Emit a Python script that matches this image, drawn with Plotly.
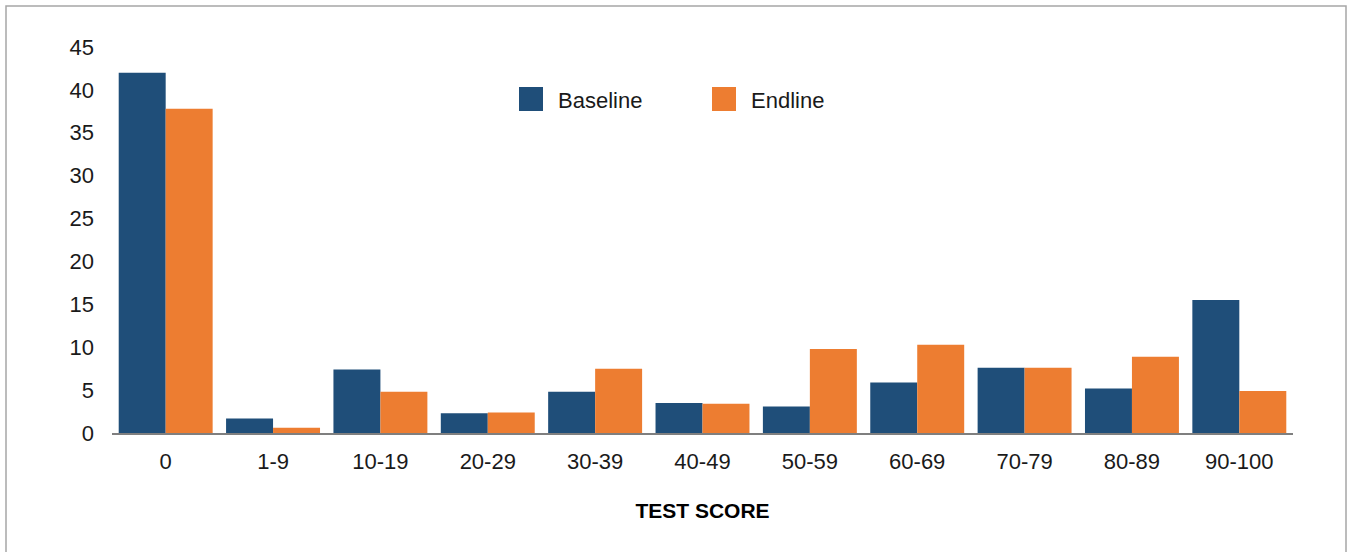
import plotly.graph_objects as go

# Score bands and share of pupils (%) in each band
categories = ["0", "1-9", "10-19", "20-29", "30-39", "40-49", "50-59",
              "60-69", "70-79", "80-89", "90-100"]
baseline = [42.0, 1.7, 7.4, 2.3, 4.8, 3.5, 3.1, 5.9, 7.6, 5.2, 15.5]
endline = [37.8, 0.6, 4.8, 2.4, 7.5, 3.4, 9.8, 10.3, 7.6, 8.9, 4.9]

series_names = ["Baseline", "Endline"]
colors = ["#1f4e79", "#ed7d31"]
y_ticks = [0, 5, 10, 15, 20, 25, 30, 35, 40, 45]

FONT = "Liberation Sans"
W, H = 1348, 552
ML, MR, MT, MB = 112, 55, 47, 119

fig = go.Figure()
for name, vals, col in zip(series_names, [baseline, endline], colors):
    fig.add_trace(go.Bar(x=categories, y=vals, name=name,
                         marker=dict(color=col, line=dict(width=0)),
                         showlegend=False))

pw = W - ML - MR
ph = H - MT - MB


def px_to_paper_x(px):
    return (px - ML) / pw


def px_to_paper_y(py):
    return (H - MB - py) / ph


shapes = []
annotations = []

# Outer frame around the whole figure
shapes.append(dict(type="rect", xref="paper", yref="paper",
                   x0=px_to_paper_x(6), x1=px_to_paper_x(1346),
                   y0=px_to_paper_y(560), y1=px_to_paper_y(6),
                   line=dict(color="#a6a6a6", width=1.5), fillcolor="rgba(0,0,0,0)",
                   layer="below"))

# Legend drawn as swatches with labels
legend_x = [519, 712]
for name, col, lx in zip(series_names, colors, legend_x):
    shapes.append(dict(type="rect", xref="paper", yref="paper",
                       x0=px_to_paper_x(lx), x1=px_to_paper_x(lx + 24),
                       y0=px_to_paper_y(111), y1=px_to_paper_y(87),
                       fillcolor=col, line=dict(width=0)))
    annotations.append(dict(x=px_to_paper_x(lx + 37), y=px_to_paper_y(100),
                            xref="paper", yref="paper", text=name,
                            showarrow=False, xanchor="left", yanchor="middle",
                            font=dict(family=FONT, size=22, color="#1a1a1a")))

fig.update_layout(
    width=W, height=H,
    margin=dict(l=ML, r=MR, t=MT, b=MB),
    paper_bgcolor="white", plot_bgcolor="white",
    barmode="group", bargap=0.125, bargroupgap=0,
    font=dict(family=FONT, size=22, color="#1a1a1a"),
    shapes=shapes, annotations=annotations,
    xaxis=dict(showgrid=False, showline=True, linecolor="#7f7f7f", linewidth=2,
               ticks="", tickfont=dict(size=22), ticklabelstandoff=8,
               title=dict(text="<b>TEST SCORE</b>", standoff=30,
                          font=dict(size=21, color="#000000"))),
    yaxis=dict(range=[0, 45], tickvals=y_ticks, showgrid=False, showline=False,
               zeroline=False, ticks="", ticklabelstandoff=17,
               tickfont=dict(size=22)),
)

fig.write_html("out.html")
